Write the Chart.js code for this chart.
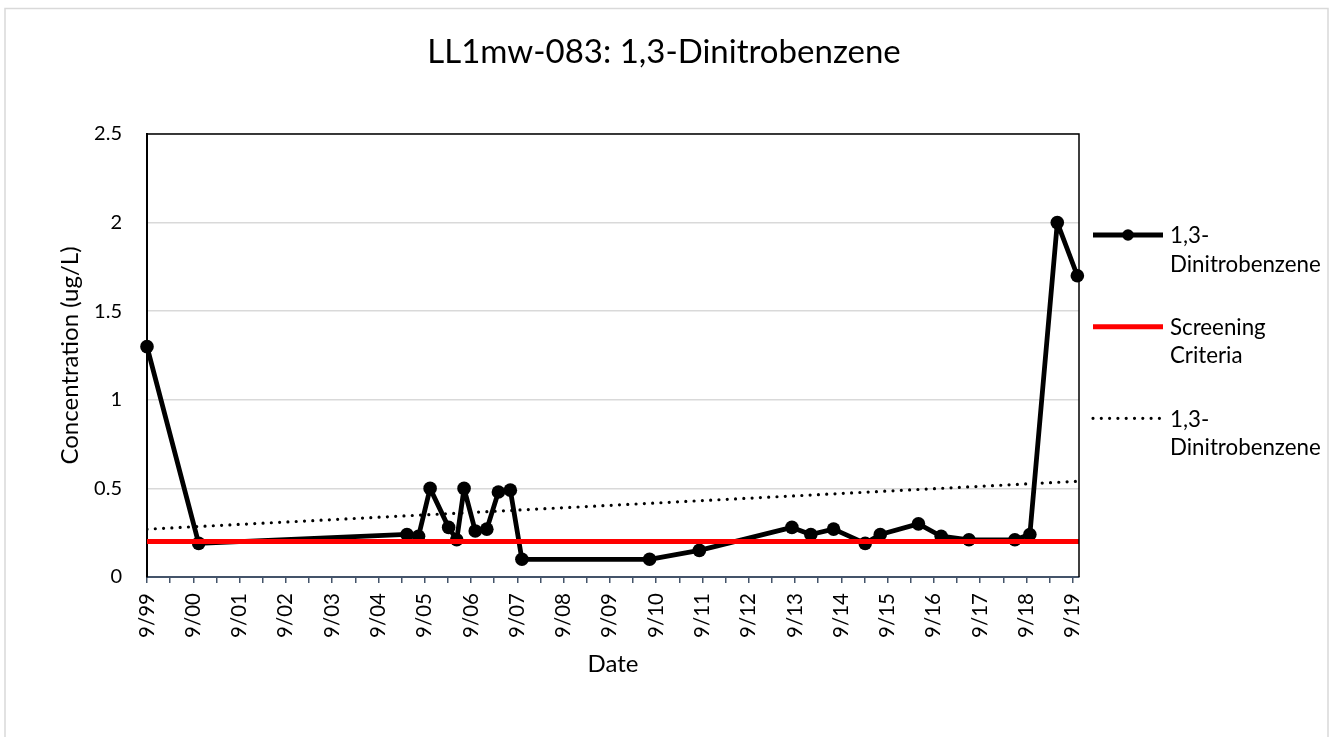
<!DOCTYPE html>
<html lang="en">
<head>
  <meta charset="UTF-8">
  <title>LL1mw-083: 1,3-Dinitrobenzene</title>
  <style>
    body{margin:0;background:#fff}
    #wrap{width:1330px;height:737px;position:relative}
  </style>
  <script src="https://cdn.jsdelivr.net/npm/chart.js"></script>
</head>
<body>
  <div id="wrap"><canvas id="chart"></canvas></div>
  <script>
    // sample dates and results
    const sampleDates = ['1999-09-01','2000-10-13','2005-04-13','2005-07-13','2005-10-13','2006-03-07',
      '2006-05-10','2006-07-07','2006-10-04','2007-01-04','2007-04-04','2007-07-07','2007-10-07',
      '2010-07-10','2011-08-07','2013-08-07','2014-01-04','2014-07-01','2015-03-07','2015-07-04',
      '2016-05-01','2016-10-28','2017-06-04','2018-06-01','2018-09-28','2019-05-01','2019-10-07'];
    const concentrations = [1.3,0.19,0.24,0.23,0.5,0.28,0.21,0.5,0.26,0.27,0.48,0.49,0.1,
      0.1,0.15,0.28,0.24,0.27,0.19,0.24,0.3,0.23,0.21,0.21,0.24,2.0,1.7];
    const screeningValue = 0.2;
    const trendDates  = ['1999-09-01','2019-10-07'];
    const trendValues = [0.27, 0.54];
    const xTickLabels = ['9/99','9/00','9/01','9/02','9/03','9/04','9/05','9/06','9/07','9/08','9/09',
      '9/10','9/11','9/12','9/13','9/14','9/15','9/16','9/17','9/18','9/19'];
    const yTickLabels = ['0','0.5','1','1.5','2','2.5'];
    const axisEnd = '2019-10-20';

    const FONT = 'Lato, "Open Sans", sans-serif';

    // months elapsed since the first tick (Sep 1999)
    function months(s) {
      const [y, m, d] = s.split('-').map(Number);
      return (y - 1999) * 12 + (m - 9) + (d - 1) / 30.4;
    }
    const xMax = months(axisEnd);

    const frame = {
      id: 'frame',
      beforeDraw(c) {
        const g = c.ctx;
        g.save();
        g.fillStyle = '#fff';
        g.fillRect(0, 0, c.width, c.height);
        g.strokeStyle = '#d9d9d9';
        g.lineWidth = 1.5;
        g.strokeRect(5, 8.5, 1323, 800);
        g.restore();
      },
      afterDatasetsDraw(c) {
        const g = c.ctx, a = c.chartArea;
        g.save();
        g.strokeStyle = '#000';
        g.lineWidth = 1.5;
        g.beginPath();
        g.moveTo(a.left, a.top); g.lineTo(a.right, a.top); g.lineTo(a.right, a.bottom);
        g.stroke();
        g.restore();
      },
      afterDraw(c) {
        const g = c.ctx, a = c.chartArea;
        g.save();
        g.fillStyle = '#000';
        g.textAlign = 'center';
        g.textBaseline = 'alphabetic';
        g.font = '33px ' + FONT;
        g.fillText('LL1mw-083: 1,3-Dinitrobenzene', 664, 63);
        g.font = '24px ' + FONT;
        g.fillText('Date', (a.left + a.right) / 2, 672);
        g.save();
        g.translate(78, (a.top + a.bottom) / 2);
        g.rotate(-Math.PI / 2);
        g.fillText('Concentration (ug/L)', 0, 0);
        g.restore();

        // legend
        const rows = [
          {ds: c.data.datasets[2], y: 235, lines: ['1,3-', 'Dinitrobenzene'], base: 243},
          {ds: c.data.datasets[1], y: 326.7, lines: ['Screening', 'Criteria'], base: 334.5},
          {ds: c.data.datasets[0], y: 418.3, lines: ['1,3-', 'Dinitrobenzene'], base: 426.5}
        ];
        g.textAlign = 'left';
        g.font = '22.3px ' + FONT;
        rows.forEach(r => {
          g.save();
          g.strokeStyle = r.ds.borderColor;
          g.lineWidth = r.ds.borderWidth;
          g.lineCap = r.ds.borderCapStyle || 'butt';
          g.setLineDash(r.ds.borderDash || []);
          g.beginPath();
          g.moveTo(1093, r.y); g.lineTo(1163, r.y);
          g.stroke();
          g.restore();
          if (r.ds.pointRadius) {
            g.beginPath();
            g.arc(1128, r.y, 5.8, 0, Math.PI * 2);
            g.fill();
          }
          r.lines.forEach((t, i) => g.fillText(t, 1170, r.base + i * 28.7));
        });
        g.restore();
      }
    };

    new Chart(document.getElementById('chart'), {
      type: 'line',
      data: {
        datasets: [
          {
            label: '1,3-Dinitrobenzene',
            data: trendDates.map((d, i) => ({x: months(d), y: trendValues[i]})),
            borderColor: '#000',
            borderWidth: 3.2,
            borderDash: [0, 8.3],
            borderCapStyle: 'round',
            pointRadius: 0,
            order: 0
          },
          {
            label: 'Screening Criteria',
            data: [{x: 0, y: screeningValue}, {x: xMax, y: screeningValue}],
            borderColor: '#ff0000',
            borderWidth: 5,
            pointRadius: 0,
            order: 1
          },
          {
            label: '1,3-Dinitrobenzene',
            data: sampleDates.map((d, i) => ({x: months(d), y: concentrations[i]})),
            borderColor: '#000',
            backgroundColor: '#000',
            borderWidth: 4.8,
            borderJoinStyle: 'round',
            pointRadius: 6.8,
            pointBackgroundColor: '#000',
            pointBorderWidth: 0,
            clip: false,
            order: 2
          }
        ]
      },
      options: {
        responsive: true,
        maintainAspectRatio: false,
        animation: false,
        layout: { padding: { top: 134, right: 251, bottom: 0, left: 0 } },
        plugins: { legend: { display: false }, tooltip: { enabled: false } },
        scales: {
          x: {
            type: 'linear',
            min: 0,
            max: xMax,
            afterFit: s => { s.height = 160; },
            afterBuildTicks: s => {
              s.ticks = [];
              for (let k = 0; k < xTickLabels.length * 2 - 1; k++) s.ticks.push({value: k * 6});
            },
            ticks: {
              autoSkip: false,
              minRotation: 90,
              maxRotation: 90,
              padding: 10,
              color: '#000',
              font: { family: FONT, size: 20.5 },
              callback: v => (v % 12 === 0 ? xTickLabels[v / 12] : '')
            },
            grid: { drawOnChartArea: false, drawTicks: true, tickLength: 6, color: '#44546a', lineWidth: 1.5 },
            border: { display: true, color: '#44546a', width: 2 }
          },
          y: {
            min: 0,
            max: 2.5,
            afterFit: s => { s.width = 147; },
            ticks: {
              stepSize: 0.5,
              padding: 25,
              color: '#000',
              font: { family: FONT, size: 20 },
              callback: (v, i) => yTickLabels[i]
            },
            grid: { color: '#d9d9d9', lineWidth: 1.5, drawTicks: false },
            border: { display: true, color: '#000', width: 2 }
          }
        }
      },
      plugins: [frame]
    });
  </script>
</body>
</html>
